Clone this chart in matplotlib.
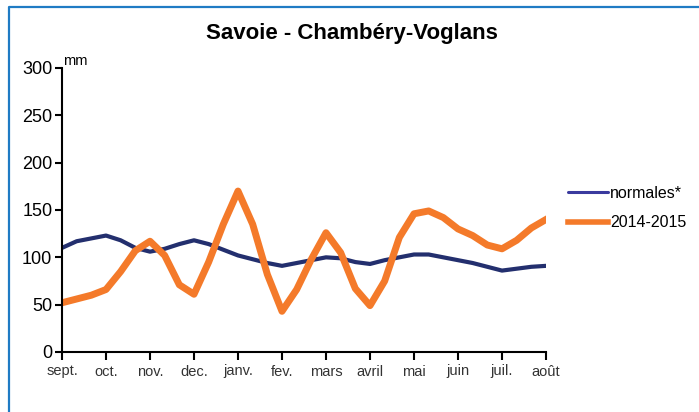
import matplotlib
matplotlib.use("Agg")
import matplotlib.pyplot as plt
from matplotlib.lines import Line2D
import numpy as np

months = ["sept.", "oct.", "nov.", "dec.", "janv.", "fev.", "mars", "avril", "mai", "juin", "juil.", "août"]

# values every third of a month (decades), from sept. to août
normales = [110, 117, 120, 123, 118, 110, 106, 109, 114, 118, 114, 108, 102, 98, 94, 91,
            94, 97, 100, 99, 95, 93, 97, 100, 103, 103, 100, 97, 94, 90, 86, 88, 90, 91]
saison = [52, 56, 60, 66, 85, 107, 117, 102, 71, 61, 95, 135, 170, 135, 82, 43,
          66, 98, 126, 105, 67, 49, 75, 121, 146, 149, 142, 130, 123, 113, 109, 118, 131, 140]

title = "Savoie - Chambéry-Voglans"
yticks = [0, 50, 100, 150, 200, 250, 300]

plt.rcParams['font.family'] = ['Liberation Sans', 'DejaVu Sans']

W, H = 699, 412
fig = plt.figure(figsize=(W / 100, H / 100), dpi=100)
fig.patch.set_facecolor("white")

# blue frame (left and top edges)
fig.add_artist(Line2D([9 / W, 9 / W, 1.0], [0.0, 1 - 7 / H, 1 - 7 / H],
                      transform=fig.transFigure, color="#1f7bc4", lw=1.6))

ax = fig.add_axes([62 / W, 1 - 352 / H, (546 - 62) / W, (352 - 68) / H])

x = np.arange(len(normales)) / 3.0
ax.plot(x, normales, color="#232f6e", lw=3.0, solid_joinstyle="round", solid_capstyle="round", label="normales*")
ax.plot(x, saison, color="#f47a2a", lw=5.0, solid_joinstyle="round", label="2014-2015")

ax.set_xlim(0, 11)
ax.set_ylim(0, 300)
ax.set_yticks(yticks)
ax.set_yticklabels([str(v) for v in yticks], fontsize=13)
ax.set_xticks(range(12))
ax.set_xticklabels(months, fontsize=10.5, family=['Liberation Sans Narrow', 'Liberation Sans'], color="#333333")

for s in ["top", "right"]:
    ax.spines[s].set_visible(False)
for s in ["left", "bottom"]:
    ax.spines[s].set_linewidth(1.5)
ax.tick_params(axis="y", direction="out", length=5, width=1.5, pad=2)
ax.tick_params(axis="x", direction="out", length=6, width=1.5, pad=3)

ax.text(0.003, 1.0, "mm", transform=ax.transAxes, fontsize=10.5, ha="left", va="bottom")

fig.text(352 / W, 1 - 33 / H, title, fontsize=16, fontweight="bold", ha="center", va="center")

leg = ax.legend(loc="upper left", bbox_to_anchor=(568 / W, 1 - 186 / H), bbox_transform=fig.transFigure,
                frameon=False, fontsize=11.5, handlelength=2.5, handletextpad=0.12, labelspacing=0.9,
                borderpad=0, borderaxespad=0)
lines = leg.get_lines()
lines[0].set_color("#3a3a9e")
lines[0].set_linewidth(2.2)
lines[1].set_linewidth(4.0)

fig.savefig("out.png", dpi=100, facecolor="white")
